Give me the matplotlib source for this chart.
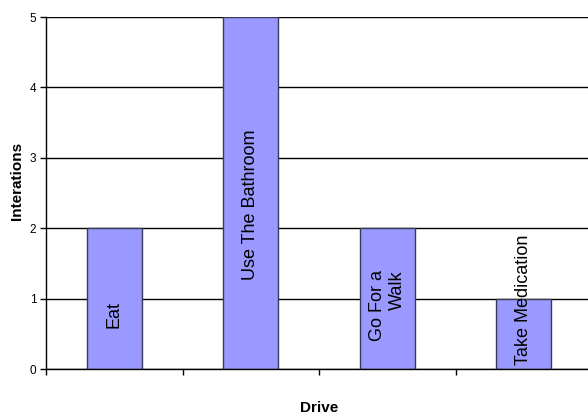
import matplotlib.pyplot as plt

plt.rcParams['font.family'] = ['Liberation Sans', 'DejaVu Sans']

# Drive counts
drives = ["Eat", "Use The Bathroom", "Go For a\nWalk", "Take Medication"]
iterations = [2, 5, 2, 1]
label_y = [0.77, 2.33, 0.9, 0.98]

fig = plt.figure(figsize=(5.88, 4.16), dpi=100)
ax = fig.add_axes([46 / 588, 47 / 416, 546 / 588, 352 / 416])

pos = [i + 0.5 for i in range(len(drives))]
ax.set_axisbelow(True)
ax.yaxis.grid(True, color='black', linewidth=1)
ax.bar(pos, iterations, width=0.4, color='#9999FF', edgecolor='#3a3a55', linewidth=1, zorder=2)

for x, name, y in zip(pos, drives, label_y):
    ax.text(x, y, name, rotation=90, ha='center', va='center', multialignment='right',
            fontsize=13, zorder=3)

ax.set_xlim(0, len(drives))
ax.set_ylim(0, 5)
ax.set_xticks(range(len(drives) + 1))
ax.set_xticklabels([])
ax.set_yticks(range(6))
ax.tick_params(axis='y', labelsize=8.5, length=4, width=1, pad=3)
ax.tick_params(axis='x', length=4, width=1)

for s in ['top', 'right']:
    ax.spines[s].set_visible(False)
for s in ['left', 'bottom']:
    ax.spines[s].set_linewidth(1)

ax.set_ylabel("Interations", fontsize=11, fontweight='bold')
ax.set_xlabel("Drive", fontsize=11, fontweight='bold')
ax.yaxis.set_label_coords(-22 / 546, 0.534)
ax.xaxis.set_label_coords(273 / 546, -32 / 352)
ax.xaxis.label.set_va('top')

fig.savefig("out.png", dpi=100)
